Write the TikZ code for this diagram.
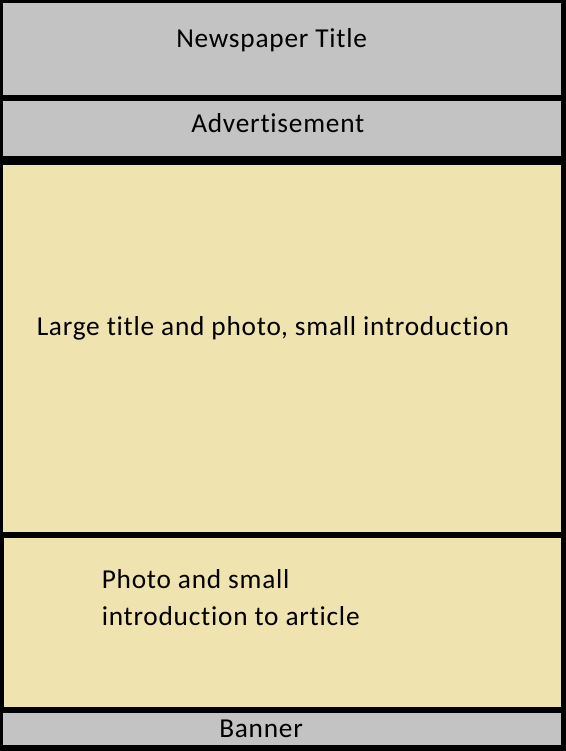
\documentclass[tikz,border=0pt]{standalone}
\usepackage{fontspec}
\setmainfont{Carlito}[Ligatures=NoCommon,LetterSpace=2.8]
\usepackage{tikz}
\definecolor{panelgray}{RGB}{195,195,195}
\definecolor{panelsand}{RGB}{239,228,176}
\tikzset{
  graybox/.style={fill=panelgray},
  sandbox/.style={fill=panelsand},
  label/.style={anchor=base west,inner sep=0pt,align=left,font=\fontsize{20.5}{27.5}\selectfont}
}

\begin{document}
\begin{tikzpicture}[x=0.75pt,y=0.75pt,yscale=-1,xscale=1]
    %Shape: Rectangle (page background)
    \fill[black] (0,0) rectangle (566,751);
    %Shape: Rectangle (title)
    \path[graybox] (3,3) rectangle (561,95);
    %Shape: Rectangle (advertisement)
    \path[graybox] (3,101) rectangle (561,156);
    %Shape: Rectangle (main story)
    \path[sandbox] (3,165) rectangle (561,532);
    %Shape: Rectangle (second story)
    \path[sandbox] (4,538) rectangle (561,707);
    %Shape: Rectangle (banner)
    \path[graybox] (3,713) rectangle (561,745);


    % Text Node
    \draw (176,47.5) node (title) [label] {Newspaper Title};
    % Text Node
    \draw (191,132.5) node (advert) [label] {Advertisement};
    % Text Node
    \draw (36.5,335.5) node (mainstory) [label] {Large title and photo, small introduction};
    % Text Node (base is the last line)
    \draw (101.5,625) node (secondstory) [label] {Photo and small\\introduction to article};
    % Text Node
    \draw (219,737.5) node (banner) [label] {Banner};


\end{tikzpicture}
\end{document}
